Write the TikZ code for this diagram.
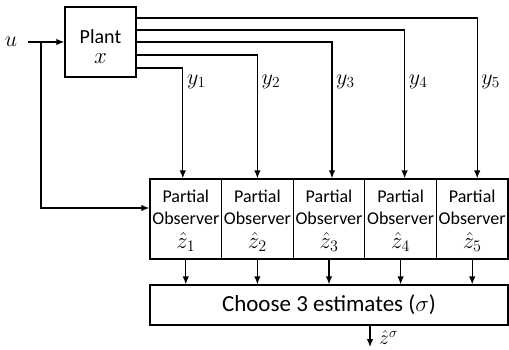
\RequirePackage{fix-cm}
\documentclass[tikz,border=0pt]{standalone}
\usepackage{fontspec}
\setmainfont{Carlito}
\usetikzlibrary{arrows.meta,positioning}

\tikzset{
    blk/.style={draw, line width=1.3pt, inner sep=0pt, align=center},
    sig/.style={line width=1.3pt, -{Latex[length=8pt,width=6.5pt]}},
    lbl/.style={font=\fontsize{22}{24}\selectfont, inner sep=1pt}
}
\newcommand{\bigmath}[2]{{\fontsize{#1}{#1}\selectfont$#2$}}

\begin{document}
\begin{tikzpicture}[x=1pt, y=-1pt, font=\fontsize{18}{22}\selectfont]
    \useasboundingbox (0,0) rectangle (509,349);

    % plant and input
    \node (plant) [blk, minimum width=71pt, minimum height=70pt,
        font=\fontsize{20}{20}\selectfont] at (100.5,42)
        {\rule{0pt}{22pt}Plant\\\bigmath{23}{x}};
    \node (u) [lbl] at (11,42) {$u$};
    \coordinate (br) at (41,42);
    \draw[sig, shorten <=10pt] (u) -- (plant.west);

    % bank of observers
    \foreach \i in {1,...,5}
        \node (obs\i) [blk, minimum width=71.6pt, minimum height=80pt]
            at ({114.2+71.6*\i},219) {\rule{0pt}{16pt}Partial\\Observer\\[2pt]\bigmath{23}{\hat z_\i}};

    \draw[sig] (br) |- ([yshift=11pt]obs1.west);

    % measured outputs
    \foreach \i/\dy/\dx in {1/-26/-3, 2/-13/0, 3/0/3, 4/12/4, 5/24/5} {
        \draw[sig] ([yshift=\dy pt]plant.east) -| ([xshift=\dx pt]obs\i.north);
        \node (ylab\i) [lbl, anchor=west] at ([xshift={\dx pt+3pt}]obs\i.north |- 0,82) {$y_\i$};
    }

    % selection
    \node (choose) [blk, minimum width=358pt, minimum height=40pt,
        font=\fontsize{23}{27}\selectfont] at (329,305) {Choose 3 estimates ($\sigma$)};
    \foreach \i in {1,...,5}
        \draw[sig] (obs\i.south) -- (obs\i.south |- choose.north);

    \coordinate (zout) at (370,347);
    \draw[sig] (choose.south -| zout) -- (zout);
    \node (zlab) [lbl, anchor=west, font=\fontsize{20}{22}\selectfont] at (378,338) {$\hat z^\sigma$};
\end{tikzpicture}
\end{document}
